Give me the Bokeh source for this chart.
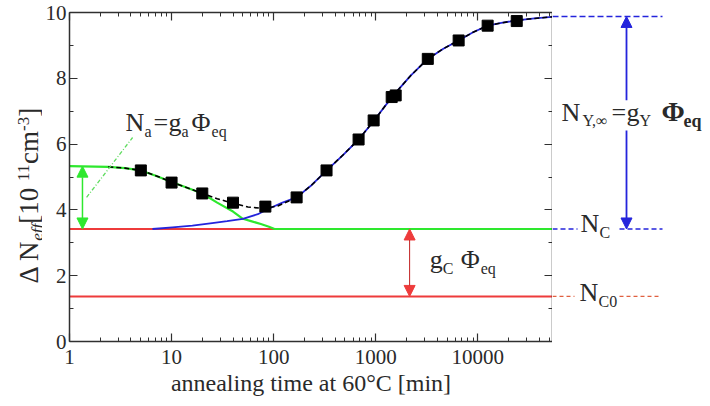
from math import pi
from bokeh.plotting import figure
from bokeh.layouts import row
from bokeh.models import (LinearAxis, LogAxis, FixedTicker, PrintfTickFormatter,
                          Arrow, NormalHead, Range1d)
from bokeh.core.properties import value
from bokeh.embed import file_html
from bokeh.resources import INLINE

# ---------------- data ----------------
t_meas = [5, 10, 20, 40, 83, 168, 330, 680, 955, 1435, 1570, 3240, 6500, 12500, 24100]
n_meas = [5.20, 4.83, 4.50, 4.22, 4.10, 4.38, 5.20, 6.14, 6.72, 7.43, 7.48, 8.59, 9.15, 9.60, 9.74]

# total fit (black dashed)
t_fit = [2.4, 3.5, 5, 7, 10, 14, 20, 28, 40, 56, 80, 110, 168, 235, 331, 475, 680, 955,
         1460, 2200, 3240, 4600, 6500, 9000, 12500, 17500, 24100, 36000, 54000]
n_fit = [5.31, 5.27, 5.20, 5.04, 4.85, 4.68, 4.50, 4.34, 4.20, 4.09, 4.04, 4.12, 4.38, 4.75,
         5.20, 5.66, 6.14, 6.70, 7.45, 8.08, 8.59, 8.90, 9.15, 9.40, 9.60, 9.69, 9.76, 9.82, 9.87]

# N_C + reverse annealing component (blue)
t_rev = [6.5, 10.2, 16, 25, 35, 50, 70, 87, 122, 168, 235, 331, 475, 680, 955, 1460, 2200,
         3240, 4600, 6500, 9000, 12500, 17500, 24100, 36000, 54000]
n_rev = [3.42, 3.47, 3.52, 3.60, 3.66, 3.73, 3.87, 4.02, 4.22, 4.38, 4.75, 5.20, 5.66, 6.14,
         6.70, 7.45, 8.08, 8.59, 8.90, 9.15, 9.40, 9.60, 9.69, 9.76, 9.82, 9.87]

# N_C + beneficial annealing component (green)
t_ben = [1, 2.4, 3.5, 5, 7, 10, 14, 20, 28, 40, 50, 60, 75, 90, 102, 54000]
n_ben = [5.33, 5.31, 5.27, 5.20, 5.04, 4.85, 4.68, 4.50, 4.22, 3.95, 3.73, 3.66, 3.57, 3.49,
         3.42, 3.42]

NC = 3.42
NC0 = 1.37
NY_INF = 9.88
NA_TOP = 5.33

x_lo, x_hi = 1, 54000
y_lo, y_hi = 0, 10
x_ticks = [1, 10, 100, 1000, 10000]
x_minor = [m * 10 ** k for k in range(5) for m in range(2, 10) if m * 10 ** k < x_hi]
y_ticks = [0, 2, 4, 6, 8, 10]
y_minor = [1, 3, 5, 7, 9]

# annotation anchors
T_ARROW_A = 1.34          # green double arrow
T_ARROW_C = 2150          # red double arrow
PTR_T = [1.47, 4.15]      # dash-dot pointer to N_a label
PTR_N = [4.38, 6.2]

FONT = "Liberation Serif"
TXT = "#2a2a2a"
GREEN = "#2ee82e"
LGREEN = "#5fdc5f"
RED = "#ee3b3b"
DRED = "#c02020"
BLUE = "#2424dc"
AX = "#303030"
BASE_FIX = 0.38   # baseline correction (fraction of font size)

# layout (pixels)
TOP, FH, BOT = 12, 329, 65
LW, PL, FW, RW = 42, 25, 483, 160


def blank(fig):
    fig.xgrid.visible = False
    fig.ygrid.visible = False
    fig.outline_line_color = None


# ---------------- main figure ----------------
p = figure(x_axis_type="log", x_range=Range1d(x_lo, x_hi), y_range=Range1d(y_lo, y_hi),
           frame_width=FW, frame_height=FH, min_border_left=PL, min_border_right=0,
           min_border_top=TOP, min_border_bottom=BOT,
           output_backend="svg", toolbar_location=None)
blank(p)


def style_axis(ax, labels=True):
    ax.axis_line_color = AX
    ax.axis_line_width = 1.5
    ax.major_tick_in = 8
    ax.major_tick_out = 0
    ax.minor_tick_in = 4
    ax.minor_tick_out = 0
    ax.major_tick_line_color = AX
    ax.minor_tick_line_color = AX
    ax.major_tick_line_width = 1.2
    ax.minor_tick_line_width = 1.0
    ax.major_label_text_font = FONT
    ax.major_label_text_font_size = "21px"
    ax.major_label_text_color = TXT
    if not labels:
        ax.major_label_text_font_size = "1px"
        ax.major_label_text_color = None
        ax.major_label_standoff = 0


xax = p.xaxis[0]
xax.ticker = FixedTicker(ticks=x_ticks, minor_ticks=x_minor)
xax.formatter = PrintfTickFormatter(format="%d")
style_axis(xax)
xax.major_label_standoff = 8
xax.axis_label = "annealing time at 60°C [min]"
xax.axis_label_text_font = FONT
xax.axis_label_text_font_size = "24px"
xax.axis_label_text_font_style = "normal"
xax.axis_label_text_color = TXT
xax.axis_label_standoff = 3

yax = p.yaxis[0]
yax.ticker = FixedTicker(ticks=y_ticks, minor_ticks=y_minor)
style_axis(yax)
yax.major_label_standoff = 3

top = LogAxis(ticker=FixedTicker(ticks=x_ticks, minor_ticks=x_minor))
style_axis(top, labels=False)
p.add_layout(top, "above")
right = LinearAxis(ticker=FixedTicker(ticks=y_ticks, minor_ticks=y_minor))
style_axis(right, labels=False)
p.add_layout(right, "right")

# horizontal levels
p.line([x_lo, x_hi], [NC, NC], line_color=RED, line_width=2)
p.line([x_lo, x_hi], [NC0, NC0], line_color=RED, line_width=2)

# components
p.line(t_ben, n_ben, line_color=GREEN, line_width=2.2)
p.line(t_rev, n_rev, line_color=BLUE, line_width=1.8)
p.line(t_fit, n_fit, line_color="black", line_width=1.6, line_dash="5 3")
p.scatter(t_meas, n_meas, marker="square", size=11, fill_color="black", line_color="black")


def head(c):
    return NormalHead(size=11, fill_color=c, line_color=c)


p.add_layout(Arrow(x_start=T_ARROW_A, y_start=NC, x_end=T_ARROW_A, y_end=NA_TOP,
                   start=head(GREEN), end=head(GREEN), line_color=GREEN, line_width=1.5))
p.add_layout(Arrow(x_start=T_ARROW_C, y_start=NC0, x_end=T_ARROW_C, y_end=NC,
                   start=head(RED), end=head(RED), line_color=DRED, line_width=1.0))
p.line(PTR_T, PTR_N, line_color=LGREEN, line_width=1.3, line_dash="4 2 1 2")


def rich(fig, x, y, pieces):
    # pieces: (text, dx px, baseline shift px (down), font size px, style)
    for txt, dx, dy, fs, style in pieces:
        fig.text(x=[x], y=[y], text=[txt], x_offset=dx, y_offset=dy - BASE_FIX * fs,
                 text_font=value(FONT), text_font_size=f"{fs}px", text_font_style=style,
                 text_color=TXT, text_align="left", text_baseline="alphabetic")


BIG, SUB = 26, 16
rich(p, 3.54, 6.35, [("N", 0, 0, BIG, "normal"), ("a", 19, 5, SUB, "normal"),
                     ("=", 28, 0, BIG, "normal"), ("g", 43, 0, BIG, "normal"),
                     ("a", 56, 5, SUB, "normal"), ("Φ", 66, 0, BIG, "normal"),
                     ("eq", 86, 5, SUB, "normal")])
rich(p, 3380, 2.19, [("g", 0, 0, BIG, "normal"), ("C", 13, 5, SUB, "normal"),
                     ("Φ", 31, 0, BIG, "normal"), ("eq", 51, 5, SUB, "normal")])

# ---------------- left panel: rotated y-axis title ----------------
lf = figure(x_range=Range1d(0, LW), y_range=Range1d(0, FH), frame_width=LW, frame_height=FH,
            min_border_left=0, min_border_right=0, min_border_top=TOP, min_border_bottom=BOT,
            x_axis_location=None, y_axis_location=None,
            output_backend="svg", toolbar_location=None)
blank(lf)
W = {"Δ": .612, " ": .25, "N": .722, "e": .444, "f": .278, "[": .333, "1": .5, "0": .5,
     "c": .444, "m": .778, "-": .333, "3": .5, "]": .333}
ylab = [("Δ N", 27, 0, "normal"), ("eff", 17, 4, "italic"), (" [10", 27, 0, "normal"),
        ("11", 17, -10, "normal"), ("cm", 27, 0, "normal"), ("-3", 17, -10, "normal"),
        ("]", 27, 0, "normal")]
pos = 58
for txt, fs, shift, style in ylab:
    lf.text(x=[39 + shift - BASE_FIX * fs], y=[pos], text=[txt], angle=pi / 2,
            text_font=value(FONT), text_font_size=f"{fs}px", text_font_style=style,
            text_color=TXT, text_align="left", text_baseline="alphabetic")
    pos += sum(W[ch] for ch in txt) * fs

# ---------------- right annotation panel ----------------
q = figure(x_range=Range1d(0, RW), y_range=p.y_range, frame_width=RW, frame_height=FH,
           min_border_left=0, min_border_right=0, min_border_top=TOP, min_border_bottom=BOT,
           x_axis_location=None, y_axis_location=None,
           output_backend="svg", toolbar_location=None)
blank(q)

q.line([0, 110], [NY_INF, NY_INF], line_color=BLUE, line_width=1.5, line_dash="6 3")
q.multi_line([[0, 25], [67, 110]], [[NC, NC], [NC, NC]], line_color=BLUE, line_width=1.5,
             line_dash="5 3")
q.multi_line([[0, 22], [67, 108]], [[NC0, NC0], [NC0, NC0]], line_color="#e06040",
             line_width=1.2, line_dash="4 3")

ARX = 74
GAP_TOP, GAP_BOT = 7.33, 6.41
q.add_layout(Arrow(x_start=ARX, y_start=GAP_TOP, x_end=ARX, y_end=NY_INF, end=head(BLUE),
                   start=None, line_color=BLUE, line_width=1.8))
q.add_layout(Arrow(x_start=ARX, y_start=GAP_BOT, x_end=ARX, y_end=NC, end=head(BLUE),
                   start=None, line_color=BLUE, line_width=1.8))

rich(q, 9, 6.67, [("N", 0, 0, BIG, "normal"), ("Y,∞", 21, 5, SUB, "normal"),
                  ("=", 50, 0, BIG, "normal"), ("g", 65, 0, BIG, "normal"),
                  ("Y", 78, 5, SUB, "normal"), ("Φ", 100, 0, 28, "bold"),
                  ("eq", 122, 6, 18, "bold")])
rich(q, 28, 3.28, [("N", 0, 0, BIG, "normal"), ("C", 19, 5, SUB, "normal")])
rich(q, 27, 1.19, [("N", 0, 0, BIG, "normal"), ("C0", 19, 5, SUB, "normal")])

layout = row(lf, p, q)
open("out.html", "w").write(file_html(layout, INLINE))
